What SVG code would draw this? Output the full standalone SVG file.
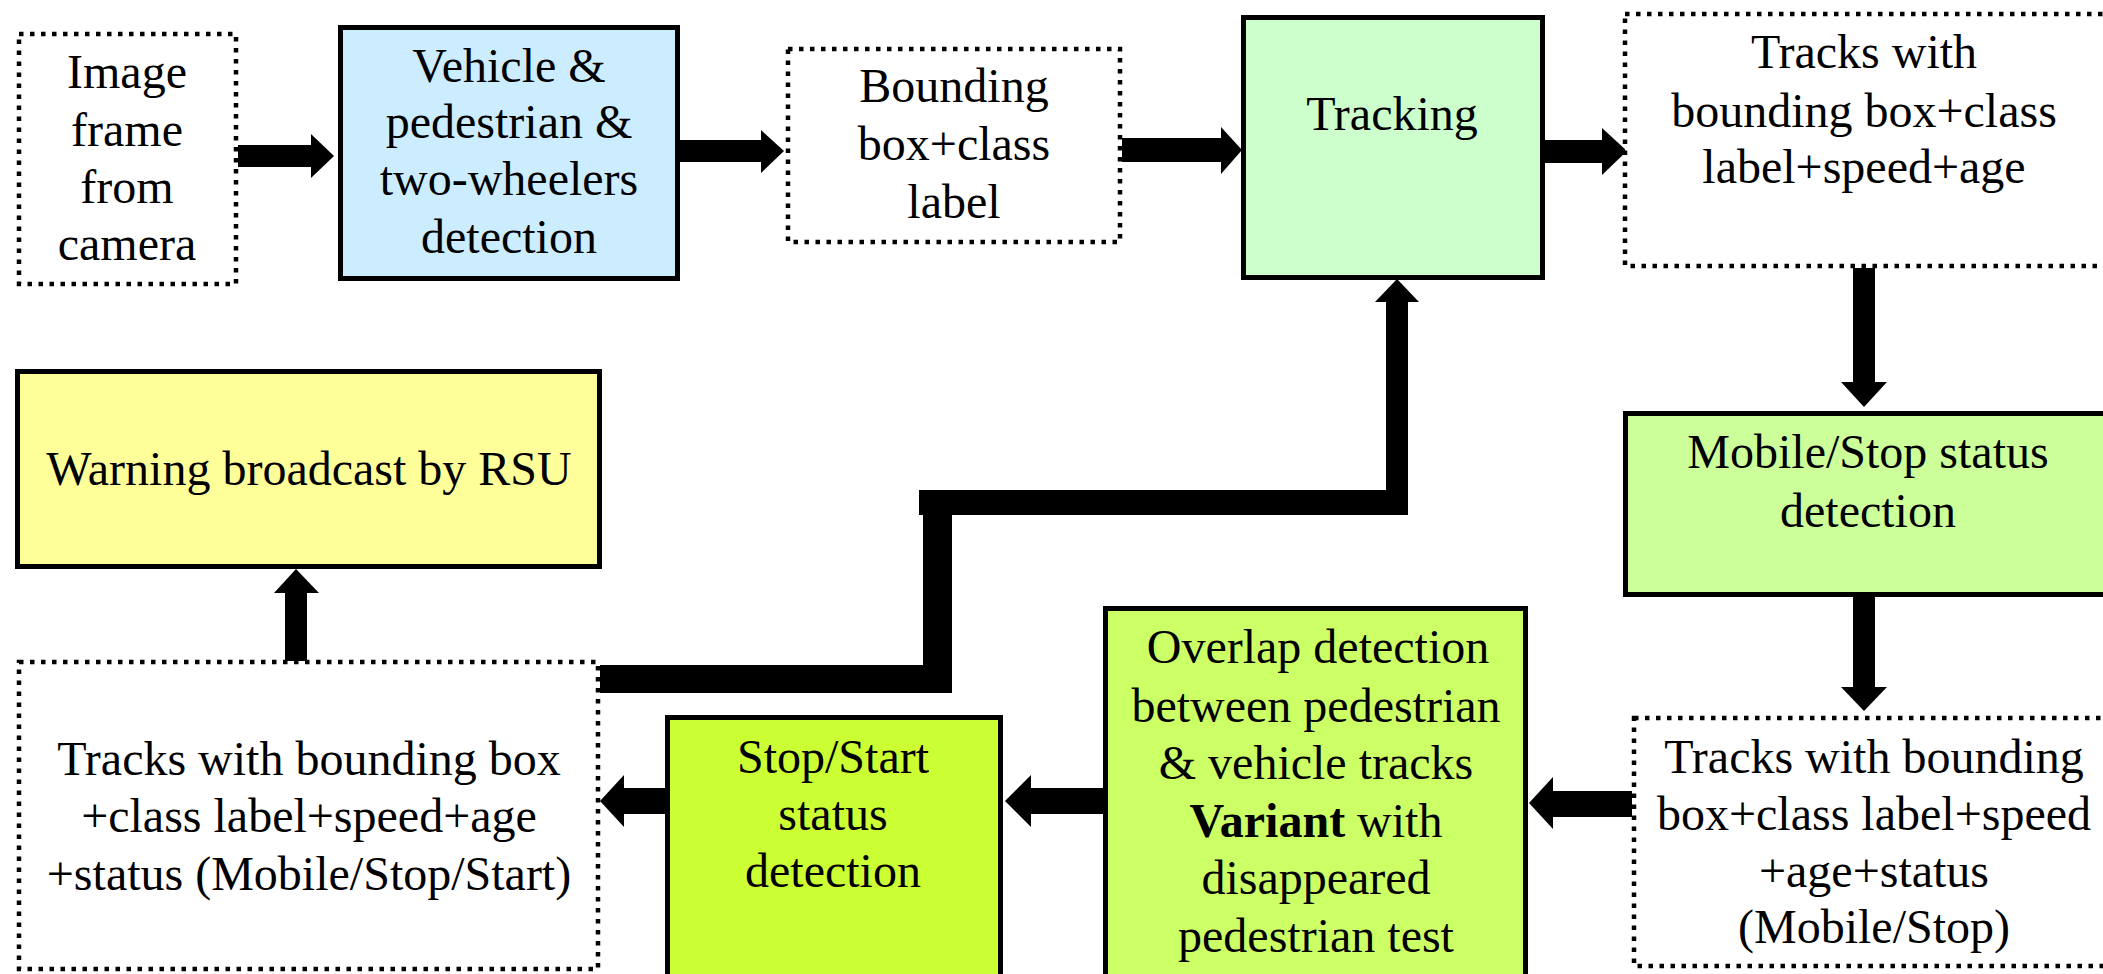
<svg xmlns="http://www.w3.org/2000/svg" width="2103" height="974" viewBox="0 0 2103 974">
<style>
.solid{stroke:#000;stroke-width:5}
.dot{fill:#fff;stroke:#000;stroke-width:4.5;stroke-dasharray:4.5 6.5}
text{font-family:"Liberation Serif","Times New Roman",serif;font-size:48px;fill:#000;text-anchor:middle}
.c{fill:#000}
</style>
<rect width="2103" height="974" fill="#fff"/>
<g id="connectors" class="c">
<rect x="238" y="145" width="74" height="22"/><polygon points="311,134 334,156 311,178"/>
<rect x="680" y="140" width="82" height="22"/><polygon points="761,130 784,151 761,173"/>
<rect x="1122" y="138" width="100" height="24"/><polygon points="1221,127 1242,150 1221,174"/>
<rect x="1545" y="140" width="58" height="23"/><polygon points="1602,128 1627,151 1602,175"/>
<rect x="1853" y="268" width="22" height="115"/><polygon points="1841,382 1864,407 1887,382"/>
<rect x="1853" y="597" width="22" height="91"/><polygon points="1841,687 1864,711 1887,687"/>
<rect x="1552" y="791" width="80" height="26"/><polygon points="1553,777 1529,803 1553,829"/>
<rect x="1030" y="788" width="73" height="26"/><polygon points="1031,775 1005,801 1031,827"/>
<rect x="623" y="788" width="42" height="26"/><polygon points="624,775 600,801 624,827"/>
<rect x="285" y="592" width="22" height="69"/><polygon points="274,593 296,569 319,593"/>
<rect x="600" y="665" width="352" height="28"/>
<rect x="923" y="490" width="29" height="203"/>
<rect x="919" y="490" width="489" height="25"/>
<rect x="1386" y="301" width="22" height="214"/>
<polygon points="1375,302 1397,279 1419,302"/>
</g>
<g id="image-frame">
<rect class="dot" x="19" y="34" width="217" height="250"/>
<text x="127" y="88">Image</text><text x="127" y="146">frame</text><text x="127" y="203">from</text><text x="127" y="260">camera</text>
</g>
<g id="detection">
<rect class="solid" x="340.5" y="27.5" width="337" height="251" fill="#CCECFF"/>
<text x="509" y="82">Vehicle &amp;</text><text x="509" y="138">pedestrian &amp;</text><text x="509" y="195">two-wheelers</text><text x="509" y="253">detection</text>
</g>
<g id="bounding-box">
<rect class="dot" x="788" y="49" width="332" height="193"/>
<text x="954" y="102">Bounding</text><text x="954" y="160">box+class</text><text x="954" y="218">label</text>
</g>
<g id="tracking">
<rect class="solid" x="1243.5" y="17.5" width="299" height="260" fill="#CCFFCC"/>
<text x="1392" y="130">Tracking</text>
</g>
<g id="tracks-top">
<rect class="dot" x="1625" y="14" width="495" height="252"/>
<text x="1864" y="68">Tracks with</text><text x="1864" y="127">bounding box+class</text><text x="1864" y="183">label+speed+age</text>
</g>
<g id="warning">
<rect class="solid" x="17.5" y="371.5" width="582" height="195" fill="#FFFF99"/>
<text x="309" y="485">Warning broadcast by RSU</text>
</g>
<g id="mobile-stop">
<rect class="solid" x="1625.5" y="413.5" width="490" height="181" fill="#CCFF99"/>
<text x="1868" y="468">Mobile/Stop status</text><text x="1868" y="527">detection</text>
</g>
<g id="tracks-bottom-right">
<rect class="dot" x="1634" y="718" width="485" height="248"/>
<text x="1874" y="773">Tracks with bounding</text><text x="1874" y="830">box+class label+speed</text><text x="1874" y="887">+age+status</text><text x="1874" y="943">(Mobile/Stop)</text>
</g>
<g id="overlap">
<rect class="solid" x="1105.5" y="608.5" width="420" height="380" fill="#CCFF66"/>
<text x="1318" y="663">Overlap detection</text><text x="1316" y="722">between pedestrian</text><text x="1316" y="779">&amp; vehicle tracks</text><text x="1316" y="837"><tspan font-weight="bold">Variant</tspan> with</text><text x="1316" y="894">disappeared</text><text x="1316" y="952">pedestrian test</text>
</g>
<g id="stop-start">
<rect class="solid" x="667.5" y="717.5" width="333" height="270" fill="#CCFF33"/>
<text x="833" y="773">Stop/Start</text><text x="833" y="830">status</text><text x="833" y="887">detection</text>
</g>
<g id="tracks-bottom-left">
<rect class="dot" x="19" y="662" width="579" height="307"/>
<text x="309" y="775">Tracks with bounding box</text><text x="309" y="832">+class label+speed+age</text><text x="309" y="890">+status (Mobile/Stop/Start)</text>
</g>
</svg>
